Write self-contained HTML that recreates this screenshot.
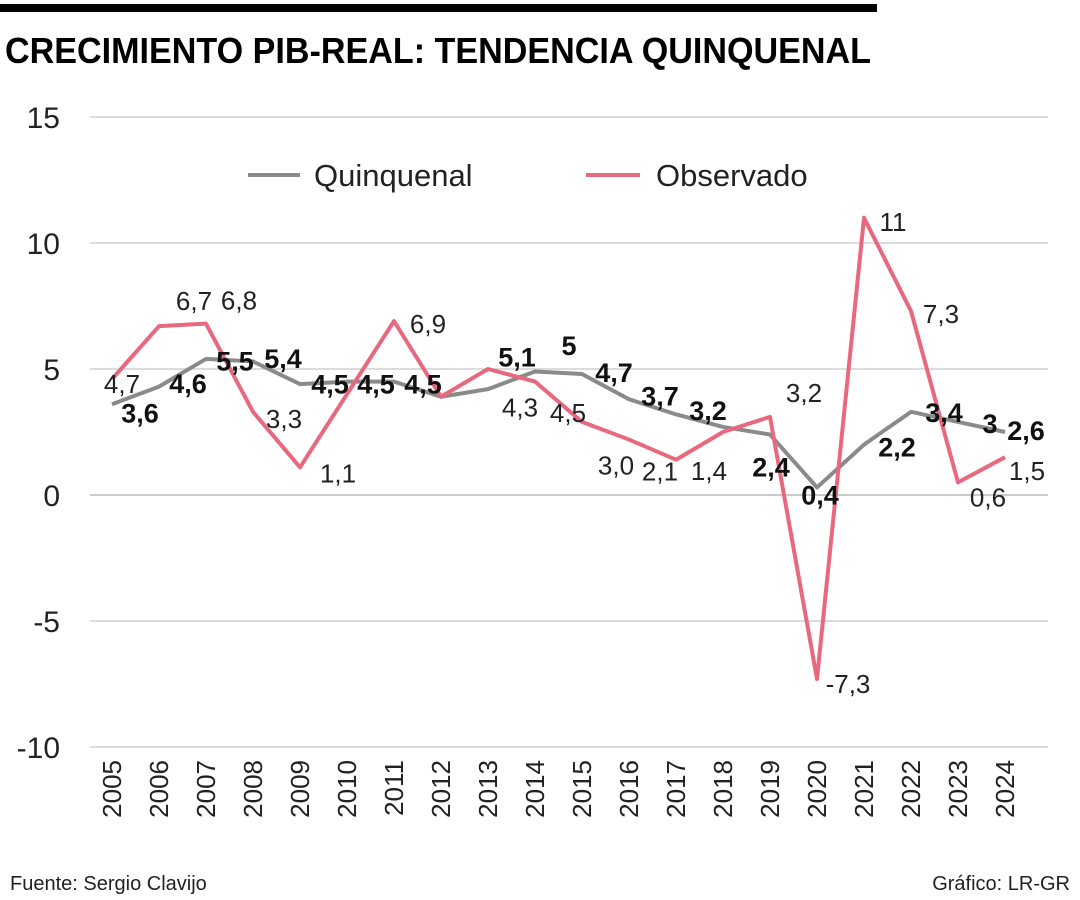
<!DOCTYPE html>
<html><head><meta charset="utf-8"><style>
html,body{margin:0;padding:0;background:#fff;}
svg{display:block;font-family:"Liberation Sans",sans-serif;}
</style></head><body>
<svg id="chart" width="1080" height="900" viewBox="0 0 1080 900">
<rect x="0" y="4" width="877" height="8" fill="#000"/>
<text x="5" y="63" font-size="36" font-weight="bold" textLength="866" lengthAdjust="spacingAndGlyphs">CRECIMIENTO PIB-REAL: TENDENCIA QUINQUENAL</text>
<g id="grid"></g><g id="xlabels"></g>
<g>
<line x1="248" y1="175" x2="300" y2="175" stroke="#8a8a8a" stroke-width="4"/>
<text x="314" y="186" font-size="31" fill="#222">Quinquenal</text>
<line x1="586" y1="175" x2="640" y2="175" stroke="#e8687e" stroke-width="4"/>
<text x="656" y="186" font-size="31" fill="#222">Observado</text>
</g>
<g id="series"></g><g id="labels"></g>
<text x="10" y="890" font-size="20" fill="#222">Fuente: Sergio Clavijo</text>
<text x="1070" y="890" font-size="20" fill="#222" text-anchor="end">Gráfico: LR-GR</text>
</svg>
<script>
const years=[2005,2006,2007,2008,2009,2010,2011,2012,2013,2014,2015,2016,2017,2018,2019,2020,2021,2022,2023,2024];
const observado=[4.6,6.7,6.8,3.3,1.1,4.0,6.9,3.9,5.0,4.5,2.9,2.2,1.4,2.5,3.1,-7.3,11.0,7.3,0.5,1.5];
const quinquenal=[3.6,4.3,5.4,5.3,4.4,4.5,4.5,3.9,4.2,4.9,4.8,3.8,3.2,2.7,2.4,0.3,2.0,3.3,2.9,2.5];
const yTicks=[15,10,5,0,-5,-10];
const quinqLabels=[[0,"3,6",28,8],[2,"4,6",-18,24],[3,"5,5",-18,-1],[4,"5,4",-17,-26],[5,"4,5",-17,2],[6,"4,5",-18,2],[7,"4,5",-18,-13],[9,"5,1",-18,-15],[10,"5",-13,-29],[11,"4,7",-15,-27],[12,"3,7",-16,-19],[13,"3,2",-15,-17],[14,"2,4",1,32],[15,"0,4",3,7],[16,"2,2",33,2],[17,"3,4",33,0],[18,"3",32,1],[19,"2,6",21,-2]];
const obsLabels=[[0,"4,7",10,4],[1,"6,7",35,-26],[2,"6,8",33,-24],[3,"3,3",31,6],[4,"1,1",38,5],[6,"6,9",34,2],[9,"4,3",-15,25],[10,"4,5",-14,-10],[11,"3,0",-13,25],[12,"2,1",-16,11],[13,"1,4",-14,38],[14,"3,2",34,-25],[15,"-7,3",31,4],[16,"11",29,3],[17,"7,3",30,2],[18,"0,6",30,14],[19,"1,5",22,13]];
const NS="http://www.w3.org/2000/svg";
const X=i=>112+i*47;
const Y=v=>495-v*25.2;
function mk(tag,attrs,parent,text){const e=document.createElementNS(NS,tag);for(const k in attrs)e.setAttribute(k,attrs[k]);if(text!==undefined)e.textContent=text;document.getElementById(parent).appendChild(e);return e;}
yTicks.forEach(t=>{
 const l=mk('line',{x1:90,x2:1048,y1:Y(t),y2:Y(t),stroke:t===0?'#aaa':'#c8c8c8','stroke-width':1.2},'grid');
 
 
 const tx=mk('text',{x:60,y:Y(t)+11,'font-size':30,'text-anchor':'end',fill:'#222'},'grid',String(t));
 
 
});
years.forEach((yr,i)=>{
 const t=mk('text',{x:0,y:0,'font-size':26,'text-anchor':'end',fill:'#222',transform:`translate(${X(i)+9},760) rotate(-90)`},'xlabels',String(yr));
 
 
});
function line(vals,color,name){
 const p=mk('polyline',{points:vals.map((v,i)=>X(i)+','+Y(v)).join(' '),fill:'none',stroke:color,'stroke-width':4,'stroke-linejoin':'round'},'series');
 
 
}
line(quinquenal,'#8a8a8a','quinquenal-line');
line(observado,'#e8687e','observado-line');
quinqLabels.forEach(([i,s,dx,dy])=>{
 const t=mk('text',{x:X(i)+dx,y:Y(quinquenal[i])+dy+10,'font-size':27,'font-weight':'bold','text-anchor':'middle',fill:'#111'},'labels',s);
 
 
});
obsLabels.forEach(([i,s,dx,dy])=>{
 const t=mk('text',{x:X(i)+dx,y:Y(observado[i])+dy+10,'font-size':26,'text-anchor':'middle',fill:'#222'},'labels',s);
 
 
});
</script>
</body></html>
